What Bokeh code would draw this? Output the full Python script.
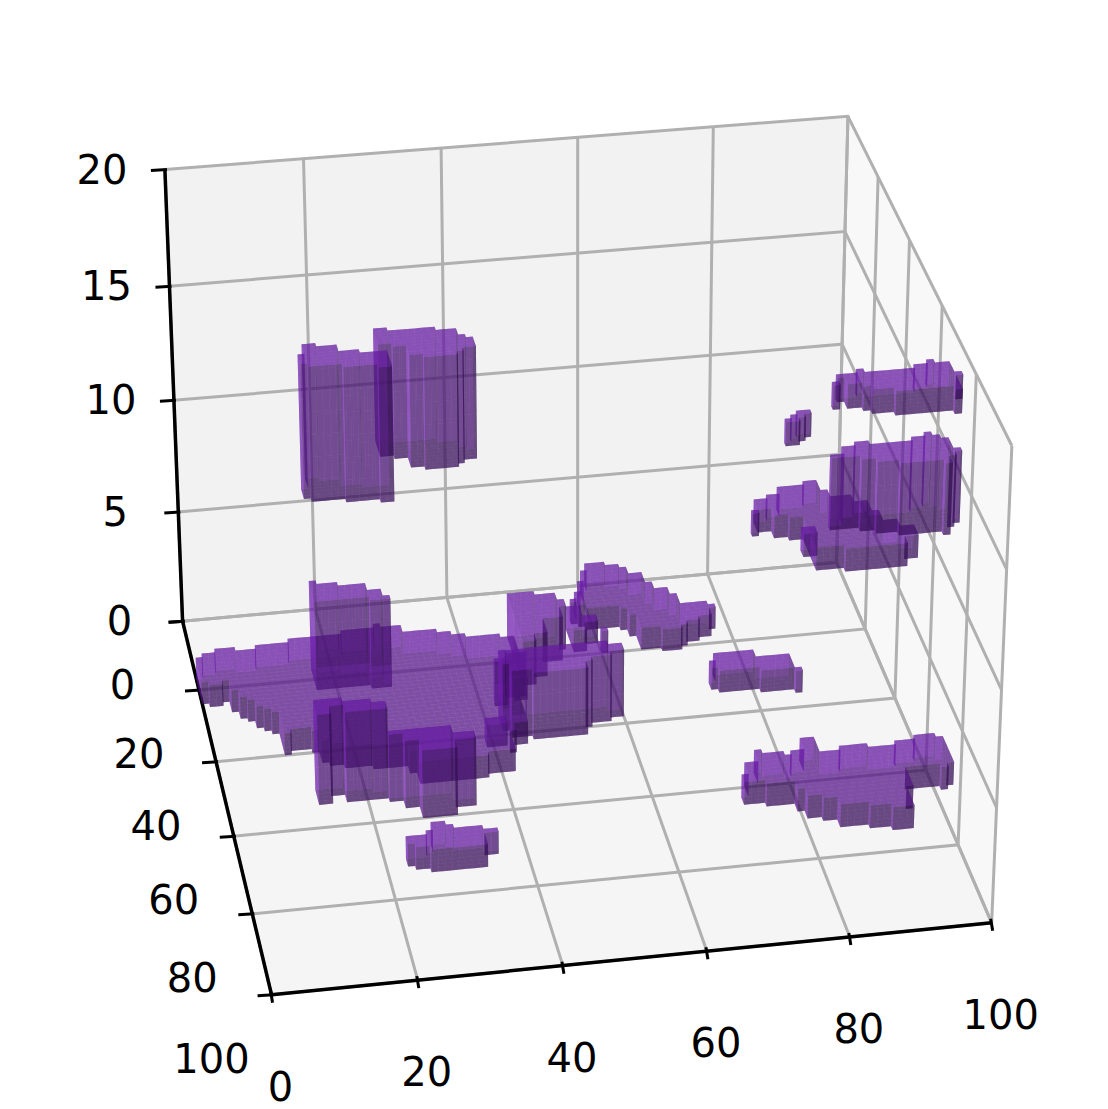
import numpy as np
from bokeh.plotting import figure
from bokeh.models import Range1d
from bokeh.core.properties import value
from bokeh.embed import file_html
from bokeh.resources import INLINE

CAL3=np.array([(0,0,0),(0,0,5),(0,0,10),(0,0,15),(0,0,20),(20,0,20),(40,0,20),(60,0,20),(80,0,20),(100,0,20),(100,0,15),(100,0,0),
(20,0,0),(40,0,0),(60,0,0),(80,0,0),(20,100,0),(40,100,0),(60,100,0),(80,100,0),(100,100,0),(0,100,0),(0,20,0),(0,40,0),(0,60,0),(0,80,0),(100,100,20)],float)
CAL2=np.array([(182,620),(177,512),(173,400),(169,287),(165,168),(303,158),(441,147),(576,137),(713,126),(848.7,116),(845,232),(835,562),
(313,608),(447,597),(577,585),(707,573),(416,980),(562,966),(707,951),(850,936),(992,922),(270,994),(199,690),(217,762),(235,835),(252,913),(1010,445)],float)
def dlt():
    A=[]
    for (x,y,z),(u,v) in zip(CAL3/100,CAL2/1000):
        A.append([x,y,z,1,0,0,0,0,-u*x,-u*y,-u*z,-u])
        A.append([0,0,0,0,x,y,z,1,-v*x,-v*y,-v*z,-v])
    M=np.linalg.svd(np.array(A))[2][-1].reshape(3,4)
    if M[2,3]<0: M=-M
    T=np.diag([1000,1000,1.0]); S=np.diag([.01,.01,.01,1.0])
    return T@M@S
P=dlt()
def proj(x,y,z):
    h=P@np.array([x,y,z,1.0])
    return h[0]/h[2],h[1]/h[2],h[2]
def solve(X,S,z):
    a=np.array([P[0,:2]-X*P[2,:2],P[1,:2]-S*P[2,:2]])
    b=-np.array([(P[0,2]-X*P[2,2])*z+P[0,3]-X*P[2,3],(P[1,2]-S*P[2,2])*z+P[1,3]-S*P[2,3]])
    return np.linalg.solve(a,b)

OUT=[
("A",0,1,[(197,201,672,697),(201,207,657,705),(207,220,652,705),(220,228,647,703),(228,232,647,712),(232,240,647,718),(240,247,649,723),(247,255,649,728),(255,263,649,732),(263,273,645,735),(273,277,642,755),(277,300,642,752),(300,307,637,752),(307,312,637,763),(312,330,635,767),(330,355,632,767),(355,392,628,767),(392,398,622,775),(398,420,623,783),(420,455,627,783),(455,470,629,780),(470,485,632,773),(485,493,633,772),(493,502,633,752),(502,510,633,745),(510,517,634,700)]),
("C",0,4,[(310,315,588,687),(315,322,581,690),(322,343,583,687),(343,367,584,687),(367,383,587,687),(383,392,593,688)]),
("E1",0,4,[(313,318,702,800),(318,330,697,803),(330,345,697,795),(345,370,699,800),(370,390,702,797)]),
("E2",0,3,[(390,403,728,797),(403,412,727,807),(412,420,727,808),(420,457,725,815),(457,475,730,805)]),
("D",0,3,[(497,510,650,730),(510,532,650,735),(532,580,645,737),(580,590,643,727),(590,610,642,720),(610,623,643,715)]),
("F",0,2,[(493,505,658,700),(505,517,648,688),(517,530,590,685),(530,542,590,675),(542,555,593,660),(555,567,598,650)]),
("W",0,1,[(567,580,605,650),(580,595,615,645),(595,610,626,650)]),
("P",0,1,[(488,505,717,745)]),
("G",0,1,[(568,575,597,613),(575,580,590,625),(580,587,580,628),(587,590,570,628),(590,610,562,628),(610,617,564,632),(617,627,564,638),(627,640,565,650),(640,650,572,650),(650,660,580,650),(660,677,587,649),(677,685,593,645),(685,695,600,641),(695,707,602,638),(707,715,605,628)]),
("H",0,1,[(713,717,659,690),(717,760,652,692),(760,795,653,691),(795,801,665,688)]),
("J",0,1,[(409,415,837,865),(415,428,833,867),(428,435,828,870),(435,448,822,871),(448,457,825,870),(457,483,826,867),(483,495,826,852)]),
("K",2,3,[(740,745,775,803),(745,760,762,803),(760,768,748,805),(768,787,752,806),(787,800,752,810),(800,815,750,818),(815,828,735,822),(828,852,748,825),(852,860,743,826),(860,877,743,827),(877,898,743,830),(898,903,742,808),(903,920,738,788),(920,933,735,788),(933,940,733,790),(940,947,735,785),(947,952,752,780)]),
("T1",6,12,[(303,308,352,497),(308,317,344,500),(317,323,346,504),(323,338,346,499),(338,362,348,501),(362,378,350,501),(378,390,350,502)]),
("T2",7,12,[(378,392,328,457),(392,407,329,457),(407,417,329,467),(417,437,328,470),(437,450,328,467),(450,460,328,462),(460,468,332,458),(468,472,337,458)]),
("L",18,19,[(829,835,380,405),(835,845,374,400),(845,862,374,408),(862,870,368,410),(870,893,370,412),(893,920,368,415),(920,933,363,413),(933,940,358,412),(940,947,362,412),(947,953,362,413),(953,958,365,410),(958,962,372,400),(962,966,382,398)]),
("M",15,16,[(783,789,418,445),(789,797,413,445),(797,803,411,440),(803,810,409,436)]),
("R",13,16,[(828,843,452,525),(843,858,447,527),(858,868,441,530),(868,892,442,532),(892,917,440,535),(917,930,436,533),(930,938,432,533),(938,947,434,534),(947,955,437,526),(955,963,447,523)]),
("S",8,9,[(753,755,508,533),(755,768,498,532),(768,780,493,538),(780,785,488,540),(785,798,484,538),(798,815,482,570),(815,828,480,570),(828,843,487,572),(843,860,493,571),(860,877,498,569),(877,890,508,567),(890,900,520,566),(900,913,523,557)]),
("N",8,9,[(803,810,527,558),(810,817,525,555)]),
]
BL=[]
for name,z0,z1,cols in OUT:
    zm=(z0+z1)/2
    edges=[]
    for i,(a,b,t,f) in enumerate(cols):
        if i==0:
            edges.append(solve(a,(t+f)/2,zm)[0])
        if i+1<len(cols):
            t2,f2=cols[i+1][2],cols[i+1][3]
            edges.append(solve(b,(t+f+t2+f2)/4,zm)[0])
        else:
            edges.append(solve(b,(t+f)/2,zm)[0])
    rows=[]
    for i,(a,b,t,f) in enumerate(cols):
        xc=(a+b)/2
        yb=solve(xc,t,z1)[1]; yf=solve(xc,f,z0)[1]
        rows.append((int(round(edges[i])),int(round(edges[i+1])),int(round(yb)),int(round(yf))))
    BL.append((name,z0,z1,rows))

def shade(c,k): return "#%02x%02x%02x"%tuple(int(v*k) for v in c)
BASE=(126,35,200); ALPHA=.5
faces=[]
def q(pts,k):
    u=[proj(*p) for p in pts]
    faces.append((sum(a[2] for a in u)/4,[a[0] for a in u],[a[1] for a in u],shade(BASE,k)))
for name,z0,z1,rows in BL:
    cells=set()
    for x0,x1,yb,yf in rows:
        if yf<=yb: yf=yb+1
        for x in range(x0,x1):
            for y in range(yb,yf): cells.add((x,y))
    for x,y in cells:
        q([(x,y,z1),(x+1,y,z1),(x+1,y+1,z1),(x,y+1,z1)],.767)
        q([(x,y,z0),(x+1,y,z0),(x+1,y+1,z0),(x,y+1,z0)],.533)
        for z in range(z0,z1):
            if (x+1,y) not in cells: q([(x+1,y,z),(x+1,y+1,z),(x+1,y+1,z+1),(x+1,y,z+1)],.417)
            if (x-1,y) not in cells: q([(x,y,z),(x,y+1,z),(x,y+1,z+1),(x,y,z+1)],.883)
            if (x,y+1) not in cells: q([(x,y+1,z),(x+1,y+1,z),(x+1,y+1,z+1),(x,y+1,z+1)],.417)
            if (x,y-1) not in cells: q([(x,y,z),(x+1,y,z),(x+1,y,z+1),(x,y,z+1)],.883)
faces.sort(key=lambda f:-f[0])

p=figure(width=1108,height=1109,x_range=Range1d(0,1108),y_range=Range1d(1109,0),output_backend="svg",toolbar_location=None,min_border=0)
p.axis.visible=False; p.grid.visible=False; p.outline_line_color=None
def poly3(pts,col):
    u=[proj(*a) for a in pts]
    p.patch([a[0] for a in u],[a[1] for a in u],fill_color=col,line_color=None)
poly3([(0,0,0),(100,0,0),(100,0,20),(0,0,20)],"#f2f2f2")
poly3([(100,0,0),(100,100,0),(100,100,20),(100,0,20)],"#f8f8f8")
poly3([(0,0,0),(100,0,0),(100,100,0),(0,100,0)],"#f5f5f5")
XT=[0,20,40,60,80,100];YT=[0,20,40,60,80,100];ZT=[0,5,10,15,20]
def pl(pts,col,w):
    u=[proj(*a) for a in pts]
    p.line([a[0] for a in u],[a[1] for a in u],line_color=col,line_width=w,line_join="miter")
G="#b0b0b0"
for x in XT: pl([(x,100,0),(x,0,0),(x,0,20)],G,3)
for y in YT: pl([(0,y,0),(100,y,0),(100,y,20)],G,3)
for z in ZT: pl([(0,0,z),(100,0,z),(100,100,z)],G,3)
pl([(0,100,0),(100,100,0)],"black",3.5); pl([(0,0,0),(0,100,0)],"black",3.5); pl([(0,0,0),(0,0,20)],"black",3.5)
def tick(pt,d0,d1):
    u=proj(*pt); p.line([u[0]+d0[0],u[0]+d1[0]],[u[1]+d0[1],u[1]+d1[1]],line_color="black",line_width=3)
lx,ly,lt=[],[],[]
def lab(pt,off,t):
    u=proj(*pt); lx.append(u[0]+off[0]); ly.append(u[1]+off[1]); lt.append(str(t))
for x in XT: tick((x,100,0),(-1,-4),(1,8)); lab((x,100,0),(9,91),x)
for y in YT: tick((0,y,0),(-14,1),(2,0)); lab((0,y,0),(-60,63),y)
for z in ZT: tick((0,0,z),(-14,1),(2,0)); lab((0,0,z),(-63,-1),z)
p.patches([f[1] for f in faces],[f[2] for f in faces],fill_color=[f[3] for f in faces],fill_alpha=ALPHA,line_color=None)
p.text(lx,ly,text=lt,text_font=value("DejaVu Sans"),text_font_size="40px",text_align="center",text_baseline="middle",text_color="black")
open("out.html","w").write(file_html(p,INLINE))
